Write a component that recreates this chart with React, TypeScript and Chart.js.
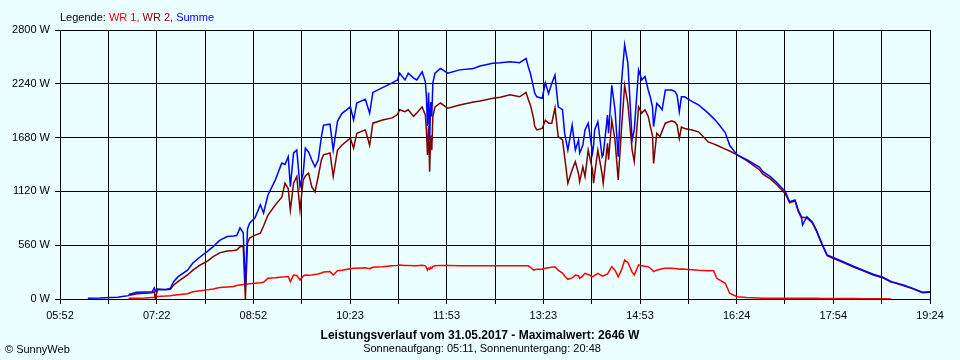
import React, { useEffect, useRef } from 'react';
import { Chart, registerables } from 'chart.js';

Chart.register(...registerables);

// time of day in minutes since midnight
const minutes = [
  378, 389, 399, 406, 410, 416, 417, 424, 431, 438, 440, 441, 443, 450, 455, 458, 462, 471, 476, 483,
  489, 495, 501, 508, 514, 517, 520, 523, 525, 527, 529, 534, 539, 542, 546, 553, 559, 562, 565, 567,
  570, 573, 576, 579, 581, 584, 587, 590, 593, 596, 598, 604, 607, 611, 615, 623, 626, 629, 637, 641,
  644, 653, 662, 667, 669, 674, 677, 682, 685, 690, 693, 694, 695, 696, 697, 698, 699, 700, 702, 707,
  714, 725, 738, 744, 756, 763, 772, 781, 787, 789, 791, 794, 795, 797, 802, 805, 808, 811, 814, 817,
  821, 823, 826, 830, 833, 836, 837, 840, 842, 845, 849, 850, 851, 854, 858, 859, 863, 864, 867, 870,
  873, 876, 879, 882, 886, 888, 892, 895, 898, 901, 903, 905, 906, 909, 912, 914, 917, 923, 926, 928,
  930, 932, 935, 942, 948, 957, 962, 965, 973, 977, 984, 993, 1005, 1008, 1015, 1021, 1029, 1033, 1038, 1041,
  1044, 1045, 1049, 1054, 1058, 1063, 1068, 1073, 1083, 1092, 1101, 1111, 1120, 1128, 1129, 1139, 1148, 1157, 1164,
];

const wr1 = [
  null, null, null, null, null, 5, 7, 8, 10, 15, 15, 18, 25, 30, 35, 40, 45, 55, 75, 85,
  95, 105, 120, 125, 130, 140, 145, 150, 150, 155, 160, 165, 170, 175, 215, 220, 230, 232, 235, 180,
  250, 245, 198, 240, 250, 248, 250, 255, 260, 270, 280, 285, 250, 295, 300, 315, 320, 320, 325, 315,
  330, 335, 345, 350, 355, 350, 350, 345, 345, 350, 345, 330, 300, 320, 310, 330, 320, 340, 345, 350,
  350, 347, 347, 347, 347, 347, 347, 345, 345, 345, 330, 300, 305, 310, 310, 320, 325, 330, 335, 300,
  270, 240, 205, 220, 250, 240, 215, 240, 267, 255, 232, 235, 245, 267, 240, 240, 260, 280, 336, 300,
  232, 300, 405, 380, 280, 250, 355, 345, 340, 336, 320, 300, 285, 300, 310, 315, 320, 320, 318, 315,
  310, 312, 310, 305, 300, 295, 295, 215, 163, 60, 24, 15, 10, 8, 7, 7, 7, 7, 7, 7,
  7, 7, 7, 7, 7, 5, 5, 5, 5, 5, 3, 3, 3, 0, null, null, null, null, null,
];

const wr2 = [
  null, null, null, null, null, null, 40, 55, 60, 65, 75, 0, 95, 95, 100, 145, 180, 250, 300, 355,
  390, 440, 480, 500, 505, 510, 545, 550, 0, 580, 635, 665, 685, 760, 870, 980, 1060, 1205, 1150, 925,
  1205, 1275, 925, 1240, 1280, 1310, 1170, 1115, 1275, 1450, 1500, 1520, 1275, 1550, 1600, 1675, 1570, 1725, 1760, 1600,
  1830, 1863, 1885, 1920, 1970, 1950, 1970, 1900, 1935, 2000, 1915, 1750, 1500, 1800, 1325, 1700, 1550, 1900, 2000, 2040,
  1985, 2020, 2050, 2060, 2090, 2100, 2125, 2105, 2150, 2080, 2020, 1880, 1800, 1760, 1775, 1860, 1830, 1830, 1990, 1690,
  1655, 1480, 1205, 1345, 1430, 1300, 1220, 1377, 1275, 1550, 1345, 1205, 1300, 1550, 1300, 1205, 1620, 1450, 1863, 1655,
  1240, 1760, 2225, 2035, 1550, 1430, 2000, 1935, 1970, 1900, 1795, 1700, 1410, 1725, 1690, 1750, 1830, 1855, 1840, 1810,
  1670, 1790, 1775, 1760, 1740, 1635, 1615, 1600, 1560, 1540, 1500, 1440, 1343, 1300, 1250, 1190, 1095, 1000, 1020, 910,
  845, 850, 845, 795, 705, 570, 450, 425, 380, 335, 295, 250, 220, 175, 173, 140, 105, 65, 70,
];

const summe = [
  8, 10, 15, 18, 25, 35, 50, 70, 72, 75, 115, 80, 105, 100, 110, 180, 230, 300, 375, 440,
  490, 545, 610, 650, 655, 660, 740, 690, 130, 730, 790, 845, 980, 895, 1080, 1240, 1415, 1400, 1480, 1170,
  1520, 1550, 1170, 1310, 1570, 1530, 1447, 1377, 1447, 1690, 1810, 1820, 1550, 1850, 1930, 2000, 1863, 2040, 2080, 1935,
  2150, 2200, 2250, 2280, 2350, 2280, 2350, 2300, 2280, 2365, 2260, 2100, 1800, 2150, 1655, 2050, 1900, 2250, 2350, 2400,
  2350, 2385, 2400, 2425, 2455, 2460, 2470, 2460, 2505, 2420, 2350, 2200, 2145, 2105, 2090, 2250, 2140, 2245, 2330, 2000,
  1970, 1725, 1550, 1810, 1550, 1655, 1520, 1600, 1760, 1830, 1520, 1600, 1760, 1845, 1480, 1500, 1915, 1725, 2225, 1970,
  1480, 2245, 2646, 2455, 1655, 1760, 2385, 2280, 2315, 2175, 2100, 2000, 1795, 2035, 2000, 1970, 2175, 2175, 2160, 2120,
  1950, 2105, 2105, 2055, 2020, 1935, 1880, 1845, 1730, 1600, 1500, 1450, 1370, 1325, 1273, 1211, 1117, 1013, 1030, 926,
  857, 770, 857, 805, 718, 580, 458, 434, 388, 343, 302, 257, 226, 180, 178, 146, 111, 70, 76,
];

const yTickValues = [0, 560, 1120, 1680, 2240, 2800];
const xStart = 352; // 05:52
const xEnd = 1164; // 19:24
const xDivisions = 18;

const seriesNames = ['WR 1', 'WR 2', 'Summe'];
const seriesColors = ['#FF0000', '#800000', '#0000FF'];
const legendLabel = 'Legende: ';
const titleText = 'Leistungsverlauf vom 31.05.2017 - Maximalwert: 2646 W';
const subtitleText = 'Sonnenaufgang: 05:11, Sonnenuntergang: 20:48';
const copyrightText = '\u00A9 SunnyWeb';

const BG = '#EBFFFF';
const FONT = '"Liberation Sans", Arial, sans-serif';

function fmtTime(v: number): string {
  const r = Math.round(v);
  const h = Math.floor(r / 60);
  const m = r % 60;
  return String(h).padStart(2, '0') + ':' + String(m).padStart(2, '0');
}

const textPlugin = {
  id: 'sunnyText',
  beforeDraw(chart: any) {
    const ctx = chart.ctx;
    ctx.save();
    ctx.fillStyle = BG;
    ctx.fillRect(0, 0, chart.width, chart.height);
    ctx.restore();
  },
  afterDraw(chart: any) {
    const ctx = chart.ctx;
    ctx.save();
    ctx.textBaseline = 'alphabetic';
    ctx.font = '11px ' + FONT;
    ctx.textAlign = 'left';
    let x = 60;
    ctx.fillStyle = '#000';
    ctx.fillText(legendLabel, x, 21);
    x += ctx.measureText(legendLabel).width;
    seriesNames.forEach((n, i) => {
      const t = n + (i < seriesNames.length - 1 ? ', ' : '');
      ctx.fillStyle = seriesColors[i];
      ctx.fillText(t, x, 21);
      x += ctx.measureText(t).width;
    });
    ctx.fillStyle = '#000';
    ctx.textAlign = 'center';
    ctx.font = 'bold 12px ' + FONT;
    ctx.fillText(titleText, 480, 339);
    ctx.font = '11px ' + FONT;
    ctx.fillText(subtitleText, 482, 352);
    ctx.textAlign = 'left';
    ctx.fillText(copyrightText, 5, 353);
    ctx.restore();
  },
};

export default function App() {
  const ref = useRef<HTMLCanvasElement | null>(null);

  useEffect(() => {
    document.body.style.margin = '0';
    document.body.style.background = BG;
    const canvas = ref.current;
    if (!canvas) return;
    const series = [wr1, wr2, summe];
    const chart = new Chart(canvas, {
      type: 'line',
      data: {
        datasets: series.map((vals, si) => ({
          label: seriesNames[si],
          data: minutes.map((m, i) => ({ x: m, y: vals[i] })),
          borderColor: seriesColors[si],
          backgroundColor: seriesColors[si],
          borderWidth: 1.5,
          pointRadius: 0,
          tension: 0,
          spanGaps: false,
          order: 2 - si,
        })),
      },
      options: {
        responsive: false,
        animation: false,
        events: [],
        layout: { padding: { top: 30, right: 30, left: 0, bottom: 0 } },
        plugins: {
          legend: { display: false },
          tooltip: { enabled: false },
          title: { display: false },
        },
        scales: {
          x: {
            type: 'linear',
            min: xStart,
            max: xEnd,
            offset: false,
            afterBuildTicks: (scale: any) => {
              const ticks = [];
              for (let i = 0; i <= xDivisions; i++) {
                ticks.push({ value: xStart + ((xEnd - xStart) * i) / xDivisions });
              }
              scale.ticks = ticks;
            },
            afterFit: (scale: any) => {
              scale.height = 61;
            },
            ticks: {
              autoSkip: false,
              maxRotation: 0,
              minRotation: 0,
              padding: 5,
              color: '#000',
              font: { family: FONT, size: 11 },
              callback: (value: any, index: number) => (index % 2 === 0 ? fmtTime(Number(value)) : ''),
            },
            grid: { color: '#000', lineWidth: 1, tickLength: 5, drawTicks: true },
            border: { color: '#000', width: 1 },
          },
          y: {
            type: 'linear',
            min: 0,
            max: 2800,
            afterBuildTicks: (scale: any) => {
              scale.ticks = yTickValues.map((v) => ({ value: v }));
            },
            afterFit: (scale: any) => {
              scale.width = 60;
            },
            ticks: {
              padding: 5,
              color: '#000',
              font: { family: FONT, size: 11 },
              callback: (value: any) => value + ' W',
            },
            grid: { color: '#000', lineWidth: 1, tickLength: 5, drawTicks: true },
            border: { color: '#000', width: 1 },
          },
        },
      },
      plugins: [textPlugin],
    } as any);
    return () => chart.destroy();
  }, []);

  return (
    <div style={{ width: 960, height: 360, background: BG }}>
      <canvas ref={ref} width={960} height={360} style={{ display: 'block' }} />
    </div>
  );
}
